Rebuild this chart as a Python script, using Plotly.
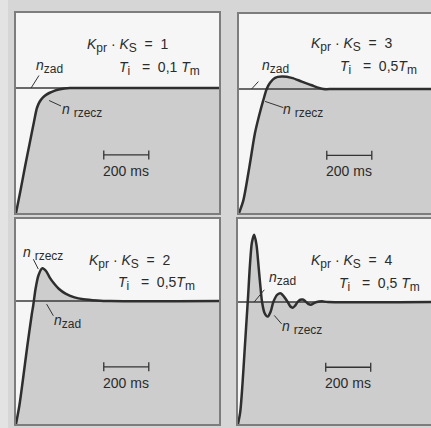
import plotly.graph_objects as go

# ---------------- data ----------------
# time in ms, speed normalised to the set-point n_zad = 1
t1 = [0, 20, 40, 60, 80, 93, 105, 120, 135, 150, 170, 190, 215, 240, 300, 902]
v1 = [0, 0.18, 0.37, 0.55, 0.73, 0.84, 0.89, 0.925, 0.947, 0.962, 0.977, 0.988, 0.996, 1.0, 1.0, 1.0]

t2 = [0, 19, 46, 71, 90, 108, 123, 138, 160, 190, 234, 279, 323, 375, 420, 853]
v2 = [0, 0.10, 0.37, 0.645, 0.79, 0.91, 1.0, 1.05, 1.09, 1.10, 1.09, 1.06, 1.03, 1.0, 1.0, 1.0]

t3 = [0, 15, 30, 50, 70, 77, 87, 100, 117, 135, 150, 170, 190, 220, 260, 300, 360, 420, 902]
v3 = [0, 0.15, 0.35, 0.63, 0.89, 0.97, 1.10, 1.21, 1.266, 1.24, 1.19, 1.14, 1.10, 1.06, 1.03, 1.015, 1.005, 1.0, 1.0]

t4 = [0, 10, 20, 30, 38, 45, 53, 62, 72, 82, 92, 100, 107, 118, 132, 145, 157, 175, 191, 206, 221,
      232, 243, 254, 265, 277, 288, 300, 312, 324, 336, 350, 373, 400, 858]
v4 = [0, 0.10, 0.33, 0.62, 0.85, 1.05, 1.30, 1.49, 1.55, 1.47, 1.28, 1.12, 1.0, 0.91, 0.88, 0.92, 1.0, 1.06, 1.07, 1.04, 1.0,
      0.965, 0.953, 0.97, 1.0, 1.018, 1.02, 1.005, 0.985, 0.978, 0.988, 1.0, 1.005, 1.0, 1.0]

# first time the actual speed reaches the set-point
t_cross = [240, 123, 77, 45]

gain_labels = ["1", "3", "2", "4"]
ti_values = ["0,1", "0,5", "0,5", "0,5"]
ti_gap = ["\u00a0", "", "", "\u00a0"]
scale_ms = 200
scale_text = "200 ms"

# ---------------- layout / style ----------------
W, H = 431, 428
FONT = "Liberation Sans, Arial, sans-serif"
BG = "#d6d6d6"
FILL = "#cdcdcd"
WHITE = "#f6f6f6"
BORDER = "#7d7d7d"
CURVE = "#2e2e2e"
TXT = "#2b2b2b"
NB = "\u00a0"


def sub(s, size=12):
    return "<sub><span style='font-size:%dpx'>%s</span></sub>" % (size, s)


def px_dom(a, b, total, flip=False):
    if flip:
        return [1 - b / total, 1 - a / total]
    return [a / total, b / total]


panels = [
    dict(t=t1, v=v1, xd=px_dom(16, 219, W), yd=px_dom(13, 213, H, True), xr=[0, 902], yr=[0, 1.6], right=True),
    dict(t=t2, v=v2, xd=px_dom(239, 431, W), yd=px_dom(14, 213, H, True), xr=[0, 853], yr=[0, 1.605], right=False),
    dict(t=t3, v=v3, xd=px_dom(16, 219, W), yd=px_dom(219, 424, H, True), xr=[0, 902], yr=[0, 1.667], right=True),
    dict(t=t4, v=v4, xd=px_dom(238, 431, W), yd=px_dom(219, 424, H, True), xr=[0, 858], yr=[0, 1.68], right=False),
]

# text placement per panel (data coords)
gain_pos = [(689, 1.344), (693, 1.355), (698, 1.325), (698, 1.33)]
ti_pos = [(827, 1.16), (800, 1.17), (804, 1.146), (818, 1.14)]
zad_pos = [(151, 1.17), (160, 1.18), (227, 0.83), (200, 1.19)]
rz_pos = [(293, 0.82), (285, 0.83), (122, 1.385), (284, 0.79)]
zad_lead = [((67, 1.0), (102, 1.10)), ((56, 1.0), (86, 1.06)), ((136, 0.975), (166, 0.88)), ((72, 1.0), (117, 1.10))]
rz_lead = [((147, 0.90), (200, 0.856)), ((116, 0.90), (197, 0.85)), ((77, 1.34), (99, 1.26)), ((161, 0.89), (194, 0.82))]
bar_pos = (390, 0.465)
bar_text_y = 0.335

fig = go.Figure()
shapes = []
annotations = []

shapes.append(dict(type="rect", xref="paper", yref="paper", x0=0, x1=8 / W, y0=0, y1=1,
                   fillcolor="#e3e3e3", line=dict(width=0), layer="below"))

for i, p in enumerate(panels):
    k = "" if i == 0 else str(i + 1)
    xa, ya = "x" + k, "y" + k
    tmax = p["xr"][1]
    # gray area under the response
    fig.add_trace(go.Scatter(x=p["t"], y=p["v"], mode="lines", line=dict(width=0, shape="spline", smoothing=0.8),
                             fill="tozeroy", fillcolor=FILL, xaxis=xa, yaxis=ya, hoverinfo="skip", showlegend=False))
    # gray area below the set-point once reached
    fig.add_trace(go.Scatter(x=[t_cross[i], tmax], y=[1, 1], mode="lines", line=dict(width=0),
                             fill="tozeroy", fillcolor=FILL, xaxis=xa, yaxis=ya, hoverinfo="skip", showlegend=False))
    # set-point n_zad
    fig.add_trace(go.Scatter(x=[0, tmax], y=[1, 1], mode="lines", line=dict(width=1.3, color="#3a3a3a"),
                             xaxis=xa, yaxis=ya, hoverinfo="skip", showlegend=False))
    # actual speed n_rzecz
    fig.add_trace(go.Scatter(x=p["t"], y=p["v"], mode="lines",
                             line=dict(width=2.5, color=CURVE, shape="spline", smoothing=0.8),
                             xaxis=xa, yaxis=ya, hoverinfo="skip", showlegend=False))

    axx = dict(domain=p["xd"], range=p["xr"], anchor=ya, showgrid=False, zeroline=False, showticklabels=False,
               ticks="", showline=True, mirror=True, linecolor=BORDER, linewidth=1.6)
    axy = dict(domain=p["yd"], range=p["yr"], anchor=xa, showgrid=False, zeroline=False, showticklabels=False,
               ticks="", showline=True, mirror=p["right"], linecolor=BORDER, linewidth=1.6)
    fig.layout["xaxis" + k] = axx
    fig.layout["yaxis" + k] = axy

    # scale bar
    bx, by = bar_pos
    shapes.append(dict(type="line", xref=xa, yref=ya, x0=bx, x1=bx + scale_ms, y0=by, y1=by,
                       line=dict(color="#333", width=1.3)))
    for xx in (bx, bx + scale_ms):
        shapes.append(dict(type="line", xref=xa, yref=ya, x0=xx, x1=xx, ysizemode="pixel", yanchor=by,
                           y0=-4.5, y1=4.5, line=dict(color="#333", width=1.3)))
    annotations.append(dict(xref=xa, yref=ya, x=bx + scale_ms / 2, y=bar_text_y, text=scale_text, showarrow=False,
                            font=dict(family=FONT, size=14, color=TXT), xanchor="center", yanchor="middle"))

    # parameter text
    gx, gy = gain_pos[i]
    gtxt = ("<i>K</i>" + sub("pr") + NB + "\u00b7" + NB + "<i>K</i>" + sub("S") + NB + NB + "=" + NB + NB
            + gain_labels[i])
    annotations.append(dict(xref=xa, yref=ya, x=gx, y=gy, showarrow=False, xanchor="right", yanchor="middle",
                            text=gtxt, font=dict(family=FONT, size=14, color=TXT)))
    tx, ty = ti_pos[i]
    ttxt = ("<i>T</i>" + sub("i") + NB * 3 + "=" + NB + NB + ti_values[i] + ti_gap[i] + "<i>T</i>" + sub("m"))
    annotations.append(dict(xref=xa, yref=ya, x=tx, y=ty, showarrow=False, xanchor="right", yanchor="middle",
                            text=ttxt, font=dict(family=FONT, size=14, color=TXT)))

    # curve labels
    zx, zy = zad_pos[i]
    annotations.append(dict(xref=xa, yref=ya, x=zx, y=zy, showarrow=False, xanchor="center", yanchor="middle",
                            text="<i>n</i>" + sub("zad"), font=dict(family=FONT, size=14, color=TXT)))
    rx, ry = rz_pos[i]
    annotations.append(dict(xref=xa, yref=ya, x=rx, y=ry, showarrow=False, xanchor="center", yanchor="middle",
                            text="<i>n</i>" + NB + sub("rzecz"), font=dict(family=FONT, size=14, color=TXT)))
    for (a, b) in (zad_lead[i], rz_lead[i]):
        shapes.append(dict(type="line", xref=xa, yref=ya, x0=a[0], y0=a[1], x1=b[0], y1=b[1],
                           line=dict(color="#333", width=1)))

fig.update_layout(width=W, height=H, margin=dict(l=0, r=0, t=0, b=0), paper_bgcolor=BG, plot_bgcolor=WHITE,
                  shapes=shapes, annotations=annotations, showlegend=False)

fig.write_html("out.html", config={"displayModeBar": False},
               post_script="document.body.style.margin='0';document.body.style.overflow='hidden';")
